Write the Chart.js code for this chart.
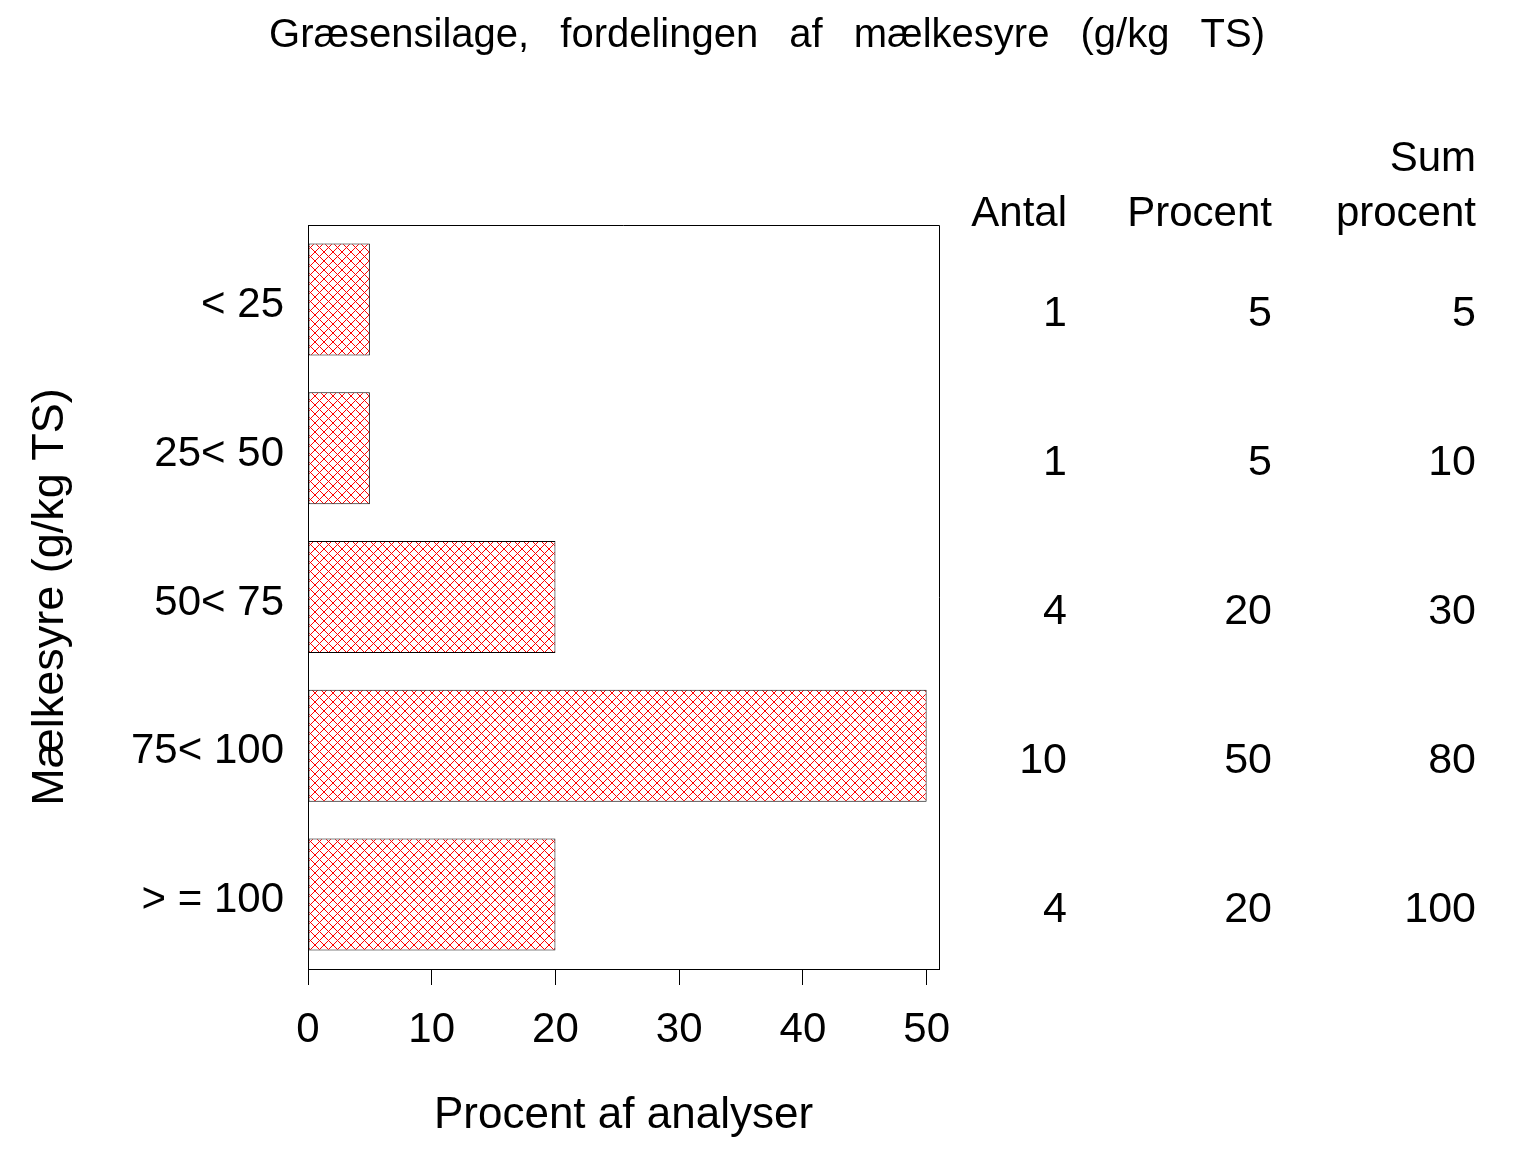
<!DOCTYPE html>
<html><head><meta charset="utf-8">
<script src="https://cdn.jsdelivr.net/npm/chart.js@4/dist/chart.umd.min.js"></script>
<style>html,body{margin:0;padding:0;background:#fff}#wrap{width:1536px;height:1152px}</style>
</head><body><div id="wrap"><canvas id="c" width="1536" height="1152"></canvas></div>
<script>
const titleText = 'Græsensilage, fordelingen af mælkesyre (g/kg TS)';
const xTitle = 'Procent af analyser';
const yTitle = 'Mælkesyre (g/kg TS)';
const categories = ['< 25', '25< 50', '50< 75', '75< 100', '> = 100'];
const percentValues = [5, 5, 20, 50, 20];
const antal = [1, 1, 4, 10, 4];
const procent = [5, 5, 20, 50, 20];
const sumProcent = [5, 10, 30, 80, 100];
const xTicks = [0, 10, 20, 30, 40, 50];
const tableColumns = [antal, procent, sumProcent];
const tableHeaders = [['Antal'], ['Procent'], ['Sum', 'procent']];

const FONT = "'Liberation Sans', Arial, Helvetica, sans-serif";
Chart.defaults.font.family = FONT;
Chart.defaults.color = '#000';

function hatchPattern() {
  const s = 9;
  const c = document.createElement('canvas');
  c.width = s; c.height = s;
  const g = c.getContext('2d');
  g.fillStyle = '#ffffff';
  g.fillRect(0, 0, s, s);
  g.fillStyle = '#ff0000';
  for (let i = 0; i < s; i++) {
    g.fillRect(i, i, 1, 1);
    g.fillRect(s - 1 - i, i, 1, 1);
  }
  return g.createPattern(c, 'repeat');
}

const framePlugin = {
  id: 'frame',
  afterDatasetsDraw(chart) {
    const a = chart.chartArea, ctx = chart.ctx;
    ctx.save();
    ctx.strokeStyle = '#000';
    ctx.lineWidth = 1;
    ctx.beginPath();
    ctx.moveTo(a.left, a.top + 0.5);
    ctx.lineTo(a.right + 0.5, a.top + 0.5);
    ctx.lineTo(a.right + 0.5, a.bottom);
    ctx.stroke();
    ctx.restore();
  }
};

const textPlugin = {
  id: 'texts',
  afterDraw(chart) {
    const ctx = chart.ctx;
    const ys = chart.scales.y;
    ctx.save();
    ctx.fillStyle = '#000';
    // title
    ctx.font = '40px ' + FONT;
    ctx.textAlign = 'center';
    ctx.textBaseline = 'alphabetic';
    try { ctx.wordSpacing = '20px'; } catch (e) {}
    ctx.fillText(titleText, 767, 47);
    try { ctx.wordSpacing = '0px'; } catch (e) {}
    // table
    const colX = [1067, 1272, 1476];
    ctx.textAlign = 'right';
    ctx.font = '42px ' + FONT;
    tableHeaders.forEach((lines, j) => {
      const n = lines.length;
      lines.forEach((t, k) => {
        ctx.fillText(t, colX[j], 226 - (n - 1 - k) * 55);
      });
    });
    ctx.font = '43px ' + FONT;
    tableColumns.forEach((col, j) => {
      col.forEach((v, i) => {
        const y = ys.getPixelForValue(i);
        ctx.fillText(String(v), colX[j], y + 27);
      });
    });
    ctx.restore();
  }
};

new Chart(document.getElementById('c'), {
  type: 'bar',
  data: {
    labels: categories,
    datasets: [{
      data: percentValues,
      backgroundColor: hatchPattern(),
      borderColor: '#000',
      borderWidth: 1,
      borderSkipped: false,
      barPercentage: 0.753,
      categoryPercentage: 1
    }]
  },
  options: {
    indexAxis: 'y',
    responsive: false,
    animation: false,
    layout: { padding: { top: 225, right: 597, left: 0, bottom: 0 } },
    plugins: { legend: { display: false }, tooltip: { enabled: false } },
    scales: {
      x: {
        type: 'linear', min: 0, max: 51,
        afterBuildTicks: s => { s.ticks = xTicks.map(v => ({ value: v })); },
        afterFit: s => { s.height = 183; },
        grid: { drawOnChartArea: false, drawTicks: true, tickLength: 16, color: '#000', lineWidth: 1 },
        border: { display: true, color: '#000', width: 1 },
        ticks: { color: '#000', font: { size: 42 }, padding: 20, maxRotation: 0 },
        title: { display: true, text: xTitle, color: '#000', font: { size: 44 }, padding: { top: 0, bottom: 10 } }
      },
      y: {
        afterFit: s => { s.width = 308; },
        grid: { display: false },
        border: { display: true, color: '#000', width: 1 },
        ticks: { color: '#000', font: { size: 42 }, padding: 16, labelOffset: 6 },
        title: { display: true, text: yTitle, color: '#000', font: { size: 45 }, padding: { top: 24, bottom: 0 } }
      }
    }
  },
  plugins: [framePlugin, textPlugin]
});
</script></body></html>
